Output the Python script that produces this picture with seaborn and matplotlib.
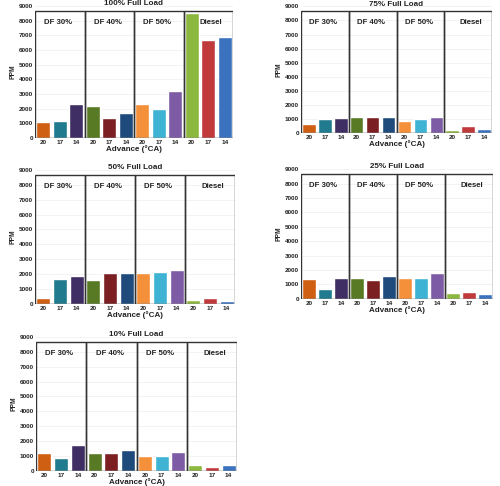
import matplotlib
matplotlib.use("Agg")
import matplotlib.pyplot as plt
import seaborn as sns
import pandas as pd
from matplotlib.patches import Rectangle

sns.set_theme(style="white")
plt.rcParams['font.family'] = ['Liberation Sans', 'DejaVu Sans']

groups = ["DF 30%", "DF 40%", "DF 50%", "Diesel"]
advances = ["20", "17", "14"]
colors = ["#CF5F12", "#1F7B8D", "#3F2E63",
          "#587A24", "#7C1F22", "#1F4A7C",
          "#F4903A", "#3FB3D3", "#7E5CA5",
          "#8DB83F", "#C03A3C", "#3B72BF"]

titles = ["100% Full Load", "75% Full Load", "50% Full Load", "25% Full Load", "10% Full Load"]
load_100 = [1070, 1180, 2300, 2180, 1360, 1700, 2300, 1980, 3180, 8480, 6680, 6890]
load_75 = [670, 980, 1070, 1160, 1160, 1160, 860, 980, 1160, 190, 490, 280]
load_50 = [380, 1670, 1870, 1600, 2070, 2070, 2070, 2180, 2270, 290, 380, 200]
load_25 = [1380, 690, 1470, 1470, 1290, 1560, 1470, 1470, 1770, 390, 500, 320]
load_10 = [1200, 890, 1710, 1200, 1200, 1380, 1000, 1000, 1290, 400, 290, 400]
series = [load_100, load_75, load_50, load_25, load_10]

positions = [
    [0.070, 0.716, 0.396, 0.272],
    [0.602, 0.726, 0.382, 0.261],
    [0.070, 0.3745, 0.400, 0.276],
    [0.602, 0.385, 0.384, 0.267],
    [0.072, 0.031, 0.402, 0.276],
]

fig = plt.figure(figsize=(5.0, 4.86), dpi=100)

for title, vals, pos in zip(titles, series, positions):
    ax = fig.add_axes(pos)
    keys = [f"{g}|{a}" for g in groups for a in advances]
    df = pd.DataFrame({"key": keys, "ppm": vals})
    sns.barplot(data=df, x="key", y="ppm", hue="key", order=keys,
                palette=dict(zip(keys, colors)), legend=False,
                width=0.85, saturation=1, ax=ax, zorder=2)
    ax.set_xlim(-0.5, 11.5)
    ax.set_ylim(0, 9000)
    ax.set_yticks(range(0, 9001, 1000))
    ax.set_yticklabels([str(v) for v in range(0, 9001, 1000)],
                       fontsize=4.6, fontweight="bold", color="#222222")
    ax.set_xticks(range(12))
    ax.set_xticklabels([a for g in groups for a in advances],
                       fontsize=4.6, fontweight="bold", color="#222222")
    ax.tick_params(axis="both", length=0, pad=1.5)
    for s in ax.spines.values():
        s.set_visible(False)
    ax.yaxis.grid(True, color="#EEEEEE", lw=0.5, zorder=0)
    ax.set_axisbelow(True)
    for gi, g in enumerate(groups):
        ax.add_patch(Rectangle((gi * 3 - 0.5, 0), 3, 8680, fill=False,
                               ec="#333333", lw=1.0, zorder=3))
        xoff = 0.25 if g == "Diesel" else 0
        ax.text(gi * 3 + 1 + xoff - 0.1, 7850, g, ha="center", va="center",
                fontsize=5.6, fontweight="bold", color="#222222", zorder=4)
    ax.set_xlabel("Advance (°CA)", fontsize=5.8, fontweight="bold",
                  color="#222222", labelpad=0)
    ax.set_ylabel("PPM", fontsize=4.8, fontweight="bold", color="#222222",
                  labelpad=2)
    ax.set_title(title, fontsize=5.8, fontweight="bold", color="#222222", pad=0.5)

fig.savefig("out.png", dpi=100, facecolor="white")
